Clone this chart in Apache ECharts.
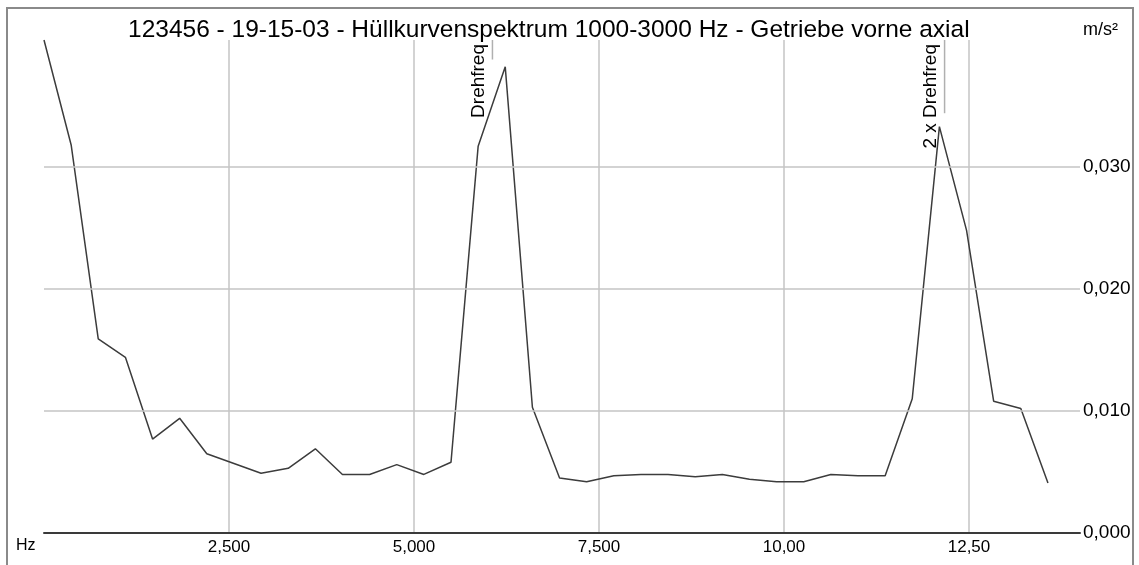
<!DOCTYPE html>
<html>
<head>
<meta charset="utf-8">
<script src="https://cdn.jsdelivr.net/npm/echarts@6/dist/echarts.min.js"></script>
<style>
html,body{margin:0;padding:0;background:#fff;}
#c{width:1139px;height:565px;}
</style>
</head>
<body>
<div id="c"></div>
<script>
const titleText = '123456 - 19-15-03 - Hüllkurvenspektrum 1000-3000 Hz - Getriebe vorne axial';
const unitY = 'm/s²';
const unitX = 'Hz';
const freqs = [0, 0.367, 0.733, 1.1, 1.467, 1.833, 2.2, 2.567, 2.933, 3.3, 3.667, 4.033, 4.4, 4.767, 5.133, 5.5, 5.867, 6.233, 6.6, 6.967, 7.333, 7.7, 8.067, 8.433, 8.8, 9.167, 9.533, 9.9, 10.267, 10.633, 11.0, 11.367, 11.733, 12.1, 12.467, 12.833, 13.2, 13.567];
const amps = [0.0404, 0.0318, 0.0159, 0.0144, 0.0077, 0.0094, 0.0065, 0.0057, 0.0049, 0.0053, 0.0069, 0.0048, 0.0048, 0.0056, 0.0048, 0.0058, 0.0317, 0.0382, 0.0103, 0.0045, 0.0042, 0.0047, 0.0048, 0.0048, 0.0046, 0.0048, 0.0044, 0.0042, 0.0042, 0.0048, 0.0047, 0.0047, 0.0110, 0.0333, 0.0248, 0.0108, 0.0102, 0.0041];
const xTickValues = [2.5, 5, 7.5, 10, 12.5];
const xTickLabels = ['2,500', '5,000', '7,500', '10,00', '12,50'];
const yTickValues = [0, 0.01, 0.02, 0.03];
const yTickLabels = ['0,000', '0,010', '0,020', '0,030'];
const yGridValues = [0.01, 0.02, 0.03];
const markerFreqs = [6.06, 12.17];
const markerEndValues = [0.0388, 0.0344];
const markerLabels = ['Drehfreq', '2 x Drehfreq'];
const X_MAX = 14, Y_MAX = 0.0404;

const FONT = '"Liberation Sans", Arial, sans-serif';
function pick(vals, labels, v) {
  for (let i = 0; i < vals.length; i++) if (Math.abs(vals[i] - v) < 1e-9) return labels[i];
  return '';
}
const chart = echarts.init(document.getElementById('c'), null, {renderer: 'canvas'});
const option = {
  animation: false,
  backgroundColor: '#fff',
  textStyle: {fontFamily: FONT},
  title: {
    text: titleText, left: 123, top: 13,
    textStyle: {fontSize: 24.5, fontWeight: 'normal', color: '#000', fontFamily: FONT}
  },
  grid: {left: 44, right: 59, top: 40, bottom: 32, containLabel: false},
  xAxis: {
    type: 'value', min: 0, max: X_MAX, interval: 2.5,
    axisLine: {show: true, onZero: true, lineStyle: {color: '#3a3a3a', width: 2}},
    axisTick: {show: false},
    axisLabel: {show: true, margin: 6, fontSize: 17, color: '#000', fontFamily: FONT,
      formatter: v => pick(xTickValues, xTickLabels, v)},
    splitLine: {show: true, showMinLine: false, showMaxLine: false, lineStyle: {color: '#c4c4c4', width: 1.5}}
  },
  yAxis: {
    type: 'value', position: 'right', min: 0, max: Y_MAX, interval: 0.01,
    axisLine: {show: false}, axisTick: {show: false},
    axisLabel: {show: true, margin: 3, fontSize: 19, color: '#000', fontFamily: FONT,
      formatter: v => pick(yTickValues, yTickLabels, v)},
    splitLine: {show: false}
  },
  series: [{
    type: 'line',
    data: freqs.map((f, i) => [f, amps[i]]),
    symbol: 'none',
    lineStyle: {color: '#3c3c3c', width: 1.5},
    markLine: {
      silent: true, symbol: 'none', label: {show: false},
      lineStyle: {color: '#c4c4c4', width: 1.5, type: 'solid'},
      data: yGridValues.map(v => ({yAxis: v}))
    },
    z: 3
  }],
  graphic: [
    {type: 'rect', shape: {x: 7, y: 8, width: 1126, height: 580}, style: {fill: 'none', stroke: '#8a8a8a', lineWidth: 2}, silent: true},
    {type: 'text', left: 1083, top: 21, style: {text: unitY, fill: '#000', font: '18px ' + FONT}},
    {type: 'text', left: 16, top: 538, style: {text: unitX, fill: '#000', font: '16px ' + FONT}}
  ]
};
chart.setOption(option);

// marker annotations placed through the chart's own scales
const extra = [];
markerFreqs.forEach((f, i) => {
  const pTop = chart.convertToPixel({gridIndex: 0}, [f, Y_MAX]);
  const pEnd = chart.convertToPixel({gridIndex: 0}, [f, markerEndValues[i]]);
  extra.push({type: 'line', shape: {x1: pTop[0], y1: pTop[1], x2: pEnd[0], y2: pEnd[1]},
    style: {stroke: '#b0b0b0', lineWidth: 1.5}, silent: true, z: 5});
  extra.push({type: 'text', x: pTop[0] - 4, y: pTop[1] + 4, rotation: Math.PI / 2,
    style: {text: markerLabels[i], font: '19px ' + FONT, fill: '#000', align: 'right', verticalAlign: 'bottom'},
    silent: true, z: 6});
});
chart.setOption({graphic: option.graphic.concat(extra)});
</script>
</body>
</html>
